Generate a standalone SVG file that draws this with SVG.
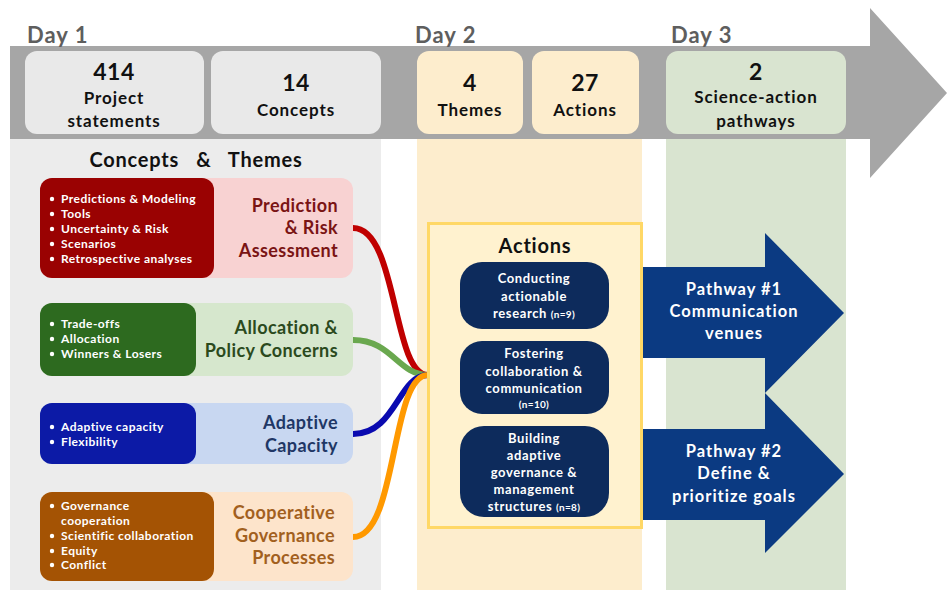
<svg xmlns="http://www.w3.org/2000/svg" width="947" height="590" viewBox="0 0 947 590">
  <style>
    text { font-family: Lato, "Open Sans", "Liberation Sans", sans-serif; }
    .day { font-size: 22px; font-weight: 700; fill: #5e5e5e; letter-spacing: 1px; }
    .num { font-size: 23px; font-weight: 700; fill: #111; text-anchor: middle; letter-spacing: 0.5px; }
    .lbl { font-size: 17px; font-weight: 700; fill: #111; text-anchor: middle; letter-spacing: 0.9px; }
    .head { font-size: 20px; font-weight: 700; fill: #111; text-anchor: middle; letter-spacing: 0.8px; }
    .bul { font-size: 12px; font-weight: 700; fill: #fff; letter-spacing: 0.45px; }
    .theme { font-size: 18px; font-weight: 700; text-anchor: end; letter-spacing: 0.4px; }
    .act { font-size: 13px; font-weight: 700; fill: #fff; text-anchor: middle; letter-spacing: 0.6px; }
    .small { font-size: 10px; letter-spacing: 0.3px; }
    .path { font-size: 16.5px; font-weight: 700; fill: #fff; text-anchor: middle; letter-spacing: 1px; }
    .link { fill: none; stroke-width: 6; stroke-linecap: butt; }
    .dot { fill: #fff; }
  </style>

  <rect width="947" height="590" fill="#fff"/>

  <!-- column backdrops -->
  <rect x="10" y="139" width="371" height="451" fill="#ececec"/>
  <rect x="417" y="139" width="225" height="451" fill="#fdedcd"/>
  <rect x="666" y="139" width="180" height="451" fill="#d9e4d0"/>

  <!-- timeline arrow -->
  <path d="M10,46 H870 V8 L947,93 L870,178 V139 H10 Z" fill="#a6a6a6"/>

  <text class="day" x="27" y="43">Day 1</text>
  <text class="day" x="415" y="43">Day 2</text>
  <text class="day" x="671" y="43">Day 3</text>

  <g id="count-statements">
    <rect x="25" y="51" width="179" height="83" rx="12" fill="#e9e9e9"/>
    <text class="num" x="114" y="80">414</text>
    <text class="lbl" x="114" y="104">Project</text>
    <text class="lbl" x="114" y="127">statements</text>
  </g>
  <g id="count-concepts">
    <rect x="211" y="51" width="170" height="83" rx="12" fill="#e9e9e9"/>
    <text class="num" x="296" y="91">14</text>
    <text class="lbl" x="296" y="116">Concepts</text>
  </g>
  <g id="count-themes">
    <rect x="417" y="51" width="106" height="83" rx="12" fill="#fdedcd"/>
    <text class="num" x="470" y="91">4</text>
    <text class="lbl" x="470" y="116">Themes</text>
  </g>
  <g id="count-actions">
    <rect x="532" y="51" width="107" height="83" rx="12" fill="#fdedcd"/>
    <text class="num" x="585" y="91">27</text>
    <text class="lbl" x="585" y="116">Actions</text>
  </g>
  <g id="count-pathways">
    <rect x="666" y="51" width="180" height="83" rx="12" fill="#d9e4d0"/>
    <text class="num" x="756" y="80">2</text>
    <text class="lbl" x="756" y="103">Science-action</text>
    <text class="lbl" x="756" y="127">pathways</text>
  </g>

  <text class="head" x="196" y="167" xml:space="preserve">Concepts   &amp;   Themes</text>

  <!-- theme cards -->
  <g id="theme-prediction">
    <rect x="40" y="178" width="313" height="100" rx="12" fill="#f8d2d2"/>
    <rect x="40" y="178" width="174" height="100" rx="12" fill="#9a0202"/>
    <g class="dot">
      <circle cx="52" cy="199" r="2.2"/><circle cx="52" cy="214" r="2.2"/><circle cx="52" cy="229" r="2.2"/>
      <circle cx="52" cy="244" r="2.2"/><circle cx="52" cy="259" r="2.2"/>
    </g>
    <g class="bul">
      <text x="61" y="203">Predictions &amp; Modeling</text>
      <text x="61" y="218">Tools</text>
      <text x="61" y="233">Uncertainty &amp; Risk</text>
      <text x="61" y="248">Scenarios</text>
      <text x="61" y="263">Retrospective analyses</text>
    </g>
    <g class="theme" fill="#7a1414">
      <text x="338" y="212">Prediction</text>
      <text x="338" y="234">&amp; Risk</text>
      <text x="338" y="257">Assessment</text>
    </g>
  </g>

  <g id="theme-allocation">
    <rect x="40" y="303" width="313" height="73" rx="12" fill="#d6e7cd"/>
    <rect x="40" y="303" width="156" height="73" rx="12" fill="#2d6a1f"/>
    <g class="dot">
      <circle cx="52" cy="324" r="2.2"/><circle cx="52" cy="339" r="2.2"/><circle cx="52" cy="354" r="2.2"/>
    </g>
    <g class="bul">
      <text x="61" y="328">Trade-offs</text>
      <text x="61" y="343">Allocation</text>
      <text x="61" y="358">Winners &amp; Losers</text>
    </g>
    <g class="theme" fill="#2b4a1d">
      <text x="338" y="334">Allocation &amp;</text>
      <text x="338" y="357">Policy Concerns</text>
    </g>
  </g>

  <g id="theme-adaptive">
    <rect x="40" y="403" width="313" height="61" rx="12" fill="#c8d7f1"/>
    <rect x="40" y="403" width="156" height="61" rx="12" fill="#0c1aa6"/>
    <g class="dot">
      <circle cx="52" cy="427" r="2.2"/><circle cx="52" cy="442" r="2.2"/>
    </g>
    <g class="bul">
      <text x="61" y="431">Adaptive capacity</text>
      <text x="61" y="446">Flexibility</text>
    </g>
    <g class="theme" fill="#1f3766">
      <text x="338" y="429">Adaptive</text>
      <text x="338" y="452">Capacity</text>
    </g>
  </g>

  <g id="theme-cooperative">
    <rect x="40" y="492" width="313" height="89" rx="12" fill="#fde4cb"/>
    <rect x="40" y="492" width="174" height="89" rx="12" fill="#a45304"/>
    <g class="dot">
      <circle cx="52" cy="506" r="2.2"/><circle cx="52" cy="536" r="2.2"/>
      <circle cx="52" cy="551" r="2.2"/><circle cx="52" cy="565" r="2.2"/>
    </g>
    <g class="bul">
      <text x="61" y="510">Governance</text>
      <text x="61" y="525">cooperation</text>
      <text x="61" y="540">Scientific collaboration</text>
      <text x="61" y="555">Equity</text>
      <text x="61" y="569">Conflict</text>
    </g>
    <g class="theme" fill="#a2601e">
      <text x="335" y="519">Cooperative</text>
      <text x="335" y="542">Governance</text>
      <text x="335" y="564">Processes</text>
    </g>
  </g>

  <!-- links from themes to actions -->
  <g id="connectors">
    <path class="link" stroke="#c00000" d="M353,228 C398,228 392,375 428,375"/>
    <path class="link" stroke="#6aa84f" d="M353,340 C392,340 398,375 428,375"/>
    <path class="link" stroke="#0a0ab0" d="M353,434 C396,434 398,375 428,375"/>
    <path class="link" stroke="#ff9900" d="M353,537 C398,537 390,375 428,375"/>
  </g>

  <g id="actions">
    <rect x="428.5" y="223.5" width="213" height="304" fill="#fff2cf" stroke="#ffd866" stroke-width="3"/>
    <text class="head" x="535" y="253">Actions</text>
  </g>

  <g id="action-research">
    <rect x="460" y="262" width="149" height="67" rx="22" fill="#0d2b5c"/>
    <text class="act" x="534" y="283">Conducting</text>
    <text class="act" x="534" y="301">actionable</text>
    <text class="act" x="534" y="318">research <tspan class="small">(n=9)</tspan></text>
  </g>
  <g id="action-collaboration">
    <rect x="460" y="341" width="149" height="73" rx="22" fill="#0d2b5c"/>
    <text class="act" x="534" y="358">Fostering</text>
    <text class="act" x="534" y="376">collaboration &amp;</text>
    <text class="act" x="534" y="393">communication</text>
    <text class="act small" x="534" y="408">(n=10)</text>
  </g>
  <g id="action-governance">
    <rect x="460" y="426" width="149" height="91" rx="24" fill="#0d2b5c"/>
    <text class="act" x="534" y="443">Building</text>
    <text class="act" x="534" y="460">adaptive</text>
    <text class="act" x="534" y="477">governance &amp;</text>
    <text class="act" x="534" y="494">management</text>
    <text class="act" x="534" y="511">structures <tspan class="small">(n=8)</tspan></text>
  </g>

  <g id="pathway-1">
    <path d="M643,267 H765 V233 L844,313 L765,393 V358 H643 Z" fill="#0b3a82"/>
    <text class="path" x="734" y="295">Pathway #1</text>
    <text class="path" x="734" y="317">Communication</text>
    <text class="path" x="734" y="339">venues</text>
  </g>
  <g id="pathway-2">
    <path d="M643,429 H765 V393 L844,474 L765,553 V520 H643 Z" fill="#0b3a82"/>
    <text class="path" x="734" y="457">Pathway #2</text>
    <text class="path" x="734" y="479">Define &amp;</text>
    <text class="path" x="734" y="502">prioritize goals</text>
  </g>
</svg>
